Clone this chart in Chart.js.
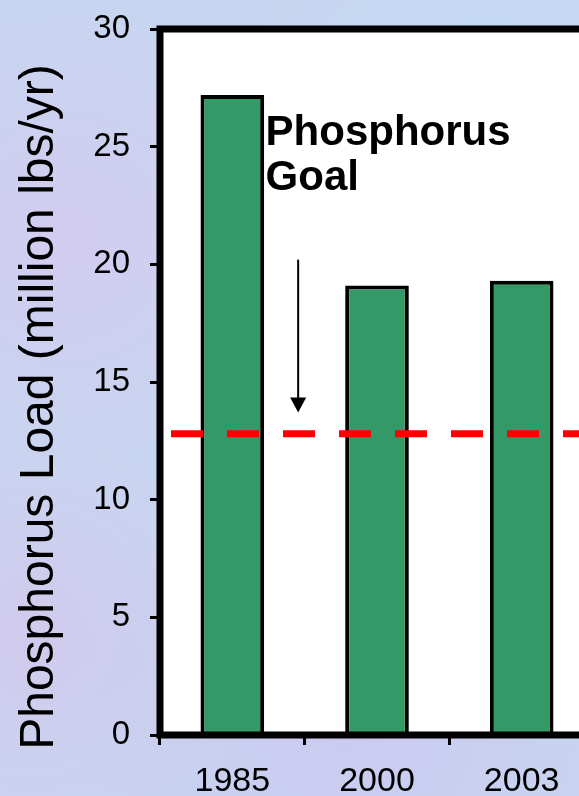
<!DOCTYPE html>
<html>
<head>
<meta charset="utf-8">
<script src="https://cdn.jsdelivr.net/npm/chart.js@4"></script>
<style>
  html, body { margin: 0; padding: 0; overflow: hidden; }
  body {
    width: 579px; height: 796px;
    background-color: #c8d5f0;
    background-image:
      radial-gradient(circle at 12% 30%, rgba(215,200,240,0.7), transparent 30%),
      radial-gradient(circle at 60% 90%, rgba(205,195,240,0.6), transparent 35%),
      radial-gradient(circle at 85% 15%, rgba(190,225,245,0.6), transparent 30%),
      radial-gradient(circle at 5% 80%, rgba(215,195,235,0.6), transparent 25%);
  }
  #wrap { width: 600px; height: 796px; }
</style>
</head>
<body>
<div id="wrap"><canvas id="loadChart"></canvas></div>
<script>
// data
const years = ['1985', '2000', '2003'];
const loads = [27.2, 19.1, 19.3];
const goalLoad = 12.8;
const yMin = 0, yMax = 30, yStep = 5;

const FONT = '"Liberation Sans", Arial, sans-serif';

// white plot area, frame, goal line, annotation and y title
const extras = {
    id: 'extras',
    beforeDraw(chart) {
        const { ctx, chartArea: a } = chart;
        ctx.save();
        ctx.fillStyle = '#ffffff';
        ctx.fillRect(a.left, a.top, a.right - a.left, a.bottom - a.top);
        ctx.restore();
    },
    afterDatasetsDraw(chart) {
        const { ctx, chartArea: a, scales: { x, y } } = chart;
        ctx.save();
        // goal line
        const gy = y.getPixelForValue(goalLoad);
        ctx.strokeStyle = '#ff0000';
        ctx.lineWidth = 7;
        ctx.setLineDash([32, 24]);
        ctx.lineDashOffset = 48;
        ctx.beginPath();
        ctx.moveTo(a.left + 3, gy);
        ctx.lineTo(a.right, gy);
        ctx.stroke();
        ctx.setLineDash([]);

        // frame: top, left, bottom
        ctx.strokeStyle = '#000';
        ctx.lineWidth = 7;
        ctx.beginPath();
        ctx.moveTo(a.right, a.top);
        ctx.lineTo(a.left, a.top);
        ctx.lineTo(a.left, a.bottom);
        ctx.lineTo(a.right, a.bottom);
        ctx.stroke();

        // annotation text
        ctx.fillStyle = '#000';
        ctx.font = 'bold 42px ' + FONT;
        ctx.textAlign = 'left';
        ctx.textBaseline = 'alphabetic';
        const tx = x.getPixelForValue(0.23);
        ctx.fillText('Phosphorus', tx, y.getPixelForValue(25.05));
        ctx.fillText('Goal', tx, y.getPixelForValue(23.15));

        // arrow
        const ax = x.getPixelForValue(0.455);
        const y1 = y.getPixelForValue(20.2);
        const y2 = y.getPixelForValue(13.7);
        ctx.lineWidth = 2;
        ctx.beginPath();
        ctx.moveTo(ax, y1);
        ctx.lineTo(ax, y2 - 12);
        ctx.stroke();
        ctx.beginPath();
        ctx.moveTo(ax - 8, y2 - 15);
        ctx.lineTo(ax + 8, y2 - 15);
        ctx.lineTo(ax, y2);
        ctx.closePath();
        ctx.fill();

        // y axis title
        ctx.translate(53, 407);
        ctx.rotate(-Math.PI / 2);
        ctx.font = '48px ' + FONT;
        ctx.textAlign = 'center';
        ctx.textBaseline = 'alphabetic';
        ctx.fillText('Phosphorus Load (million lbs/yr)', 0, 0);
        ctx.restore();
    }
};

const ctx = document.getElementById('loadChart').getContext('2d');
new Chart(ctx, {
    type: 'bar',
    data: {
        labels: years,
        datasets: [{
            data: loads,
            backgroundColor: '#339966',
            borderColor: '#000000',
            borderWidth: 4,
            barPercentage: 0.44,
            categoryPercentage: 1
        }]
    },
    options: {
        responsive: true,
        maintainAspectRatio: false,
        animation: false,
        layout: {
            padding: { top: 29, right: 6, left: 0, bottom: 0 }
        },
        plugins: {
            legend: { display: false },
            tooltip: { enabled: false }
        },
        scales: {
            x: {
                offset: true,
                afterFit(scale) {
                    scale.height = 61;
                    scale.paddingLeft = 0;
                    scale.paddingRight = 0;
                },
                grid: {
                    offset: true,
                    drawOnChartArea: false,
                    color: '#000',
                    lineWidth: 3,
                    tickLength: 10
                },
                border: { color: '#000', width: 6 },
                ticks: {
                    color: '#000',
                    padding: 16,
                    font: { family: FONT, size: 34 }
                }
            },
            y: {
                min: yMin,
                max: yMax,
                afterFit(scale) {
                    scale.width = 160;
                    scale.paddingTop = 0;
                    scale.paddingBottom = 0;
                },
                grid: {
                    drawOnChartArea: false,
                    color: '#000',
                    lineWidth: 3,
                    tickLength: 10
                },
                border: { color: '#000', width: 6 },
                ticks: {
                    stepSize: yStep,
                    color: '#000',
                    padding: 20,
                    font: { family: FONT, size: 33 }
                }
            }
        }
    },
    plugins: [extras]
});
</script>
</body>
</html>
